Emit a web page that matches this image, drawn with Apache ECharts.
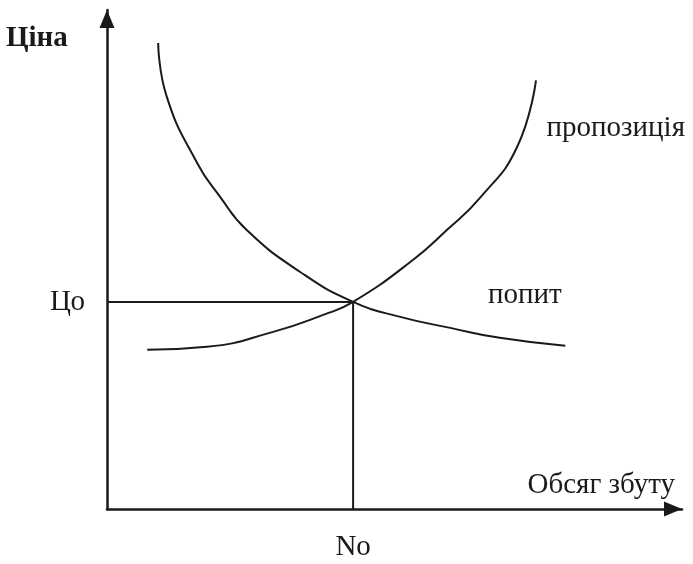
<!DOCTYPE html>
<html>
<head>
<meta charset="utf-8">
<script src="https://cdn.jsdelivr.net/npm/echarts@6/dist/echarts.min.js"></script>
<style>
    html, body {margin: 0; padding: 0; background: #fff;}
    #main {width: 693px; height: 564px;}
</style>
</head>
<body>
<div id="main"></div>
<script>
    // curve points, [quantity, price] in 0..100 units
    var demand = [
        [8.9, 93.4], [10.4, 82.6], [15.7, 69.3], [19.7, 62.5], [24.3, 55.9],
        [33.6, 47.5], [42.8, 41.5], [51.0, 38.5], [59.7, 36.3], [68.3, 34.3], [79.7, 32.7]
    ];
    var supply = [
        [7.0, 31.9], [17.4, 32.5], [28.9, 35.5], [37.6, 38.9], [42.8, 41.5],
        [53.2, 49.9], [59.1, 55.9], [64.9, 62.4], [71.3, 72.5], [74.6, 85.9]
    ];
    var eqQty = 42.8;
    var eqPrice = 41.5;
    var guides = [[0, eqPrice], [eqQty, eqPrice], [eqQty, 0]];

    var font = '"Liberation Serif", "DejaVu Serif", serif';
    var ink = '#1a1a1a';

    var chart = echarts.init(document.getElementById('main'));
    chart.setOption({
        animation: false,
        backgroundColor: '#fff',
        grid: {left: 107, right: 11, top: 10, bottom: 55},
        xAxis: {
            type: 'value', min: 0, max: 100,
            splitLine: {show: false},
            axisTick: {show: false},
            axisLine: {
                show: true, onZero: false,
                symbol: ['none', 'triangle'], symbolSize: [15, 18], symbolOffset: [0, -9],
                lineStyle: {color: ink, width: 2.5}
            },
            axisLabel: {
                customValues: [eqQty], margin: 24,
                formatter: function () { return 'No'; },
                color: ink, fontFamily: font, fontSize: 29
            }
        },
        yAxis: {
            type: 'value', min: 0, max: 100,
            splitLine: {show: false},
            axisTick: {show: false},
            axisLine: {
                show: true, onZero: false,
                symbol: ['none', 'triangle'], symbolSize: [15, 18], symbolOffset: [0, -9],
                lineStyle: {color: ink, width: 2.5}
            },
            axisLabel: {
                customValues: [eqPrice], margin: 22,
                formatter: function () { return 'Цо'; },
                color: ink, fontFamily: font, fontSize: 29
            }
        },
        graphic: [
            {type: 'text', x: 6, y: 39, style: {text: 'Ціна', font: 'bold 29px ' + font, fill: ink, textVerticalAlign: 'middle'}},
            {type: 'text', x: 675, y: 485, style: {text: 'Обсяг збуту', font: '29px ' + font, fill: ink, textAlign: 'right', textVerticalAlign: 'middle'}},
            {type: 'text', x: 685, y: 128, style: {text: 'пропозиція', font: '29px ' + font, fill: ink, textAlign: 'right', textVerticalAlign: 'middle'}},
            {type: 'text', x: 488, y: 295, style: {text: 'попит', font: '29px ' + font, fill: ink, textVerticalAlign: 'middle'}}
        ],
        series: [
            {
                name: 'попит', type: 'line', smooth: 0.5, showSymbol: false,
                lineStyle: {color: ink, width: 2},
                data: demand
            },
            {
                name: 'пропозиція', type: 'line', smooth: 0.5, showSymbol: false,
                lineStyle: {color: ink, width: 2},
                data: supply
            },
            {
                name: 'рівновага', type: 'line', showSymbol: false,
                lineStyle: {color: ink, width: 2},
                data: guides
            }
        ]
    });
</script>
</body>
</html>
